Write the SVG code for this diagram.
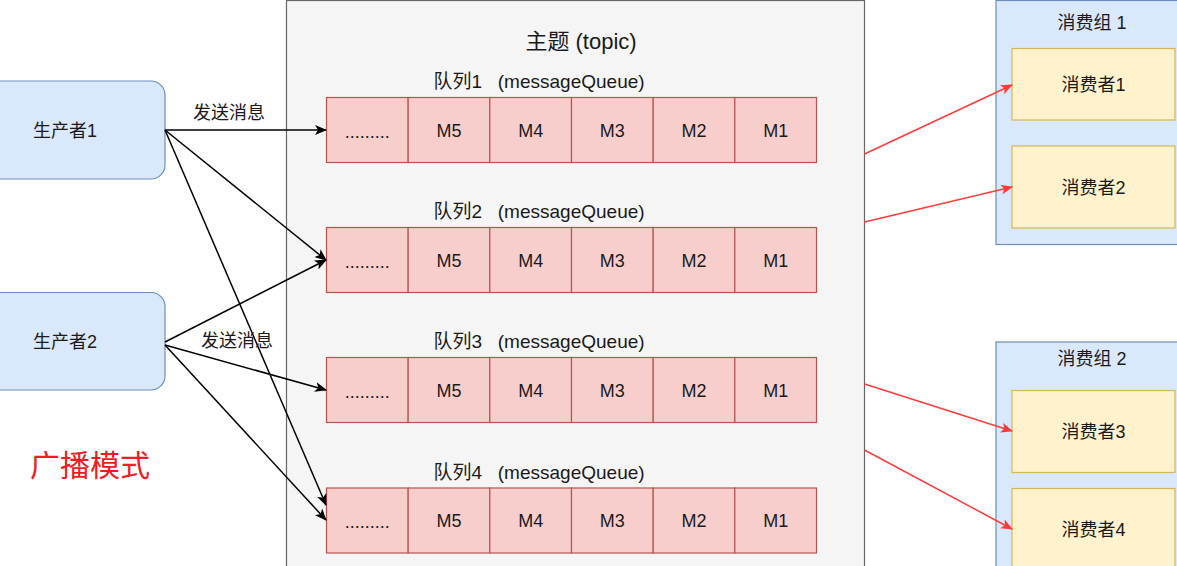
<svg xmlns="http://www.w3.org/2000/svg" width="1177" height="566" viewBox="0 0 1177 566">
<style>
text{font-family:"Liberation Sans","Noto Sans CJK SC",sans-serif;font-size:18px;fill:#1a1a1a;text-anchor:middle;dominant-baseline:central}
.ql{font-size:19px}
.prod{fill:#dae8fc;stroke:#6c8ebf;stroke-width:1.2}
.grp{fill:#dae8fc;stroke:#6c8ebf;stroke-width:1.2}
.cons{fill:#fff2cc;stroke:#d6b656;stroke-width:1.2}
.cell{fill:#f8cecc;stroke:#b85450;stroke-width:1.2}
.topic{fill:#f5f5f5;stroke:#666666;stroke-width:1.2}
.blk{stroke:#000;stroke-width:1.5;fill:none;marker-end:url(#ab)}
.red{stroke:#ff3b3b;stroke-width:1.5;fill:none;marker-end:url(#ar)}
</style>
<defs>
<marker id="ab" viewBox="0 0 12 10" refX="11" refY="5" markerWidth="12" markerHeight="10" markerUnits="userSpaceOnUse" orient="auto">
<path d="M0,0 L12,5 L0,10 L3,5 Z" fill="#000"/>
</marker>
<marker id="ar" viewBox="0 0 12 10" refX="11" refY="5" markerWidth="12" markerHeight="10" markerUnits="userSpaceOnUse" orient="auto">
<path d="M0,0 L12,5 L0,10 L3,5 Z" fill="#ff3b3b"/>
</marker>
<g id="queueCells">
<rect class="cell" x="0" y="0" width="81.67" height="65"/>
<rect class="cell" x="81.67" y="0" width="81.67" height="65"/>
<rect class="cell" x="163.33" y="0" width="81.67" height="65"/>
<rect class="cell" x="245" y="0" width="81.67" height="65"/>
<rect class="cell" x="326.67" y="0" width="81.67" height="65"/>
<rect class="cell" x="408.33" y="0" width="81.67" height="65"/>
<text x="40.8" y="34">.........</text>
<text x="122.5" y="33">M5</text>
<text x="204.2" y="33">M4</text>
<text x="285.8" y="33">M3</text>
<text x="367.5" y="33">M2</text>
<text x="449.2" y="33">M1</text>
</g>
</defs>
<rect width="1177" height="566" fill="#ffffff"/>

<g id="topic">
<rect class="topic" x="286.5" y="0.5" width="578" height="580"/>
<text x="581" y="41" style="font-size:22px">主题 (topic)</text>
</g>

<g id="queue1">
<text class="ql" x="539" y="81" xml:space="preserve">队列1   (messageQueue)</text>
<use href="#queueCells" x="326.5" y="97.5"/>
</g>
<g id="queue2">
<text class="ql" x="539" y="211" xml:space="preserve">队列2   (messageQueue)</text>
<use href="#queueCells" x="326.5" y="227.5"/>
</g>
<g id="queue3">
<text class="ql" x="539" y="341" xml:space="preserve">队列3   (messageQueue)</text>
<use href="#queueCells" x="326.5" y="357.5"/>
</g>
<g id="queue4">
<text class="ql" x="539" y="472" xml:space="preserve">队列4   (messageQueue)</text>
<use href="#queueCells" x="326.5" y="488"/>
</g>

<g id="producer1">
<rect class="prod" x="-35" y="81" width="200" height="98" rx="14"/>
<text x="65" y="131">生产者1</text>
</g>
<g id="producer2">
<rect class="prod" x="-35" y="292.5" width="200" height="97.5" rx="14"/>
<text x="65" y="342">生产者2</text>
</g>

<g id="group1">
<rect class="grp" x="996" y="0.5" width="195" height="244"/>
<text x="1092" y="23">消费组 1</text>
</g>
<g id="consumer1">
<rect class="cons" x="1012" y="48.5" width="163" height="71.5"/>
<text x="1093.5" y="85">消费者1</text>
</g>
<g id="consumer2">
<rect class="cons" x="1012" y="146" width="163" height="82"/>
<text x="1093.5" y="187.5">消费者2</text>
</g>

<g id="group2">
<rect class="grp" x="996" y="342" width="195" height="240"/>
<text x="1092" y="359">消费组 2</text>
</g>
<g id="consumer3">
<rect class="cons" x="1012" y="390.5" width="163" height="82"/>
<text x="1093.5" y="432">消费者3</text>
</g>
<g id="consumer4">
<rect class="cons" x="1012" y="488.5" width="163" height="82"/>
<text x="1093.5" y="529.5">消费者4</text>
</g>

<g id="connectors">
<path class="blk" d="M165,130 L326,130"/>
<path class="blk" d="M165,130 L326,260"/>
<path class="blk" d="M165,130 L326,505"/>
<path class="blk" d="M165,342 L326,260"/>
<path class="blk" d="M165,345 L326,390"/>
<path class="blk" d="M165,345 L326,520"/>
<path class="red" d="M864.5,154 L1012,85"/>
<path class="red" d="M864.5,222 L1012,187"/>
<path class="red" d="M864.5,384 L1012,431"/>
<path class="red" d="M864.5,450 L1012,529"/>
<text x="229" y="113">发送消息</text>
<text x="237" y="341">发送消息</text>
</g>

<text x="90" y="465" style="font-size:30px;fill:#ee1c25">广播模式</text>
</svg>
